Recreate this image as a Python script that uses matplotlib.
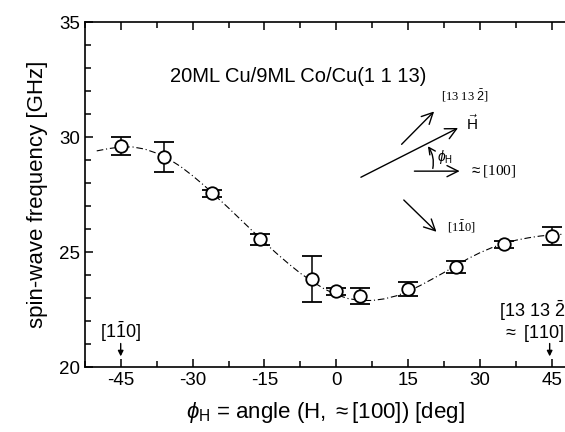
import numpy as np
import matplotlib.pyplot as plt
from matplotlib.patches import FancyArrowPatch

plt.rcParams['font.family'] = ['Liberation Sans', 'DejaVu Sans']
plt.rcParams['mathtext.fontset'] = 'custom'
plt.rcParams['mathtext.rm'] = 'Liberation Sans'
plt.rcParams['mathtext.it'] = 'Liberation Sans:italic'
plt.rcParams['axes.unicode_minus'] = False

# measured points
angle = [-45, -36, -26, -16, -5, 0, 5, 15, 25, 35, 45]
freq = [29.6, 29.15, 27.55, 25.55, 23.85, 23.3, 23.1, 23.4, 24.35, 25.35, 25.7]
err = [0.4, 0.65, 0.15, 0.25, 1.0, 0.15, 0.35, 0.3, 0.25, 0.15, 0.4]

# fitted curve
fit_angle = [-50, -47.5, -45, -42.5, -40, -37.5, -35, -32.5, -30, -27.5, -25, -22.5, -20,
             -17.5, -15, -12.5, -10, -7.5, -5, -2.5, 0, 2.5, 5, 7.5, 10, 12.5, 15,
             17.5, 20, 22.5, 25, 27.5, 30, 32.5, 35, 37.5, 40, 42.5, 45, 47.5]
fit_freq = [29.4, 29.5, 29.57, 29.57, 29.48, 29.3, 29.05, 28.72, 28.32, 27.88, 27.4, 26.92, 26.42,
            25.92, 25.42, 24.95, 24.5, 24.08, 23.72, 23.4, 23.15, 22.98, 22.9, 22.9, 22.97, 23.1, 23.3,
            23.55, 23.83, 24.12, 24.42, 24.72, 24.98, 25.2, 25.38, 25.52, 25.62, 25.7, 25.75, 25.78]

fig = plt.figure(figsize=(5.65, 4.32), dpi=100)
ax = fig.add_axes([0.150, 0.150, 0.85, 0.799])

ax.plot(fit_angle, fit_freq, color='black', lw=0.8, ls=(0, (6, 2.5, 1, 2.5)))
ax.errorbar(angle, freq, yerr=err, fmt='o', ms=9, mfc='white', mec='black', mew=1.3,
            ecolor='black', elinewidth=1.1, capsize=7, capthick=1.1, zorder=3)

ax.set_xlim(-50.1, 47.7)
ax.set_ylim(20, 35)
ax.set_xticks([-45, -30, -15, 0, 15, 30, 45])
ax.set_xticks(np.arange(-52.5, 48, 7.5), minor=True)
ax.set_yticks([20, 25, 30, 35])
ax.set_yticks(np.arange(20, 35.1, 1), minor=True)
ax.tick_params(which='both', direction='in', top=True, right=False, width=1.1, labelsize=13.5)
ax.tick_params(which='major', length=6)
ax.tick_params(which='minor', length=4)
ax.spines['right'].set_visible(False)
for s in ['left', 'bottom', 'top']:
    ax.spines[s].set_linewidth(1.2)

ax.set_xlabel(r'$\phi_{\rm H}$ = angle (H, $\approx$[100]) [deg]', fontsize=16, labelpad=8)
ax.set_ylabel('spin-wave frequency [GHz]', fontsize=16, labelpad=8)

ax.text(-8.0, 32.65, '20ML Cu/9ML Co/Cu(1 1 13)', fontsize=14.5, ha='center', va='center')

# direction markers along the axis
ax.annotate('', xy=(-45, 20.35), xytext=(-45, 21.15),
            arrowprops=dict(arrowstyle='-|>', color='black', lw=1, mutation_scale=8))
ax.text(-45, 21.55, r'[1$\bar{1}$0]', fontsize=13, ha='center', va='center')
ax.annotate('', xy=(44.5, 20.35), xytext=(44.5, 21.15),
            arrowprops=dict(arrowstyle='-|>', color='black', lw=1, mutation_scale=8))
ax.text(47.7, 22.45, r'[13 13 $\bar{2}$', fontsize=13, ha='right', va='center')
ax.text(47.7, 21.45, r'$\approx$ [110]', fontsize=13, ha='right', va='center')

# inset sketch of the directions
serif = ['Liberation Serif', 'DejaVu Serif']
arr = dict(arrowstyle='->', color='black', lw=1, mutation_scale=20)
ax.annotate('', xy=(20.8, 31.2), xytext=(13.2, 29.6), arrowprops=arr)
ax.text(21.8, 31.8, r'[13 13 $\bar{2}$]', fontsize=9, family=serif, va='center')
ax.annotate('', xy=(25.9, 30.45), xytext=(4.6, 28.2), arrowprops=arr)
ax.text(27.0, 30.6, r'$\vec{\mathrm{H}}$', fontsize=11, family=serif, va='center')
ax.annotate('', xy=(26.3, 28.52), xytext=(15.7, 28.52), arrowprops=arr)
ax.text(27.6, 28.52, r'$\approx$[100]', fontsize=11, family=serif, va='center')
ax.annotate('', xy=(21.3, 25.8), xytext=(13.65, 27.35), arrowprops=arr)
ax.text(23.0, 26.1, r'[1$\bar{1}$0]', fontsize=9, family=serif, va='center')
ax.add_patch(FancyArrowPatch((20.0, 28.52), (18.75, 29.7), connectionstyle='arc3,rad=0.25',
                             arrowstyle='->', color='black', lw=1, mutation_scale=12))
ax.text(20.9, 29.15, r'$\phi_{\rm H}$', fontsize=10, va='center')

fig.savefig('out.png', dpi=100)
